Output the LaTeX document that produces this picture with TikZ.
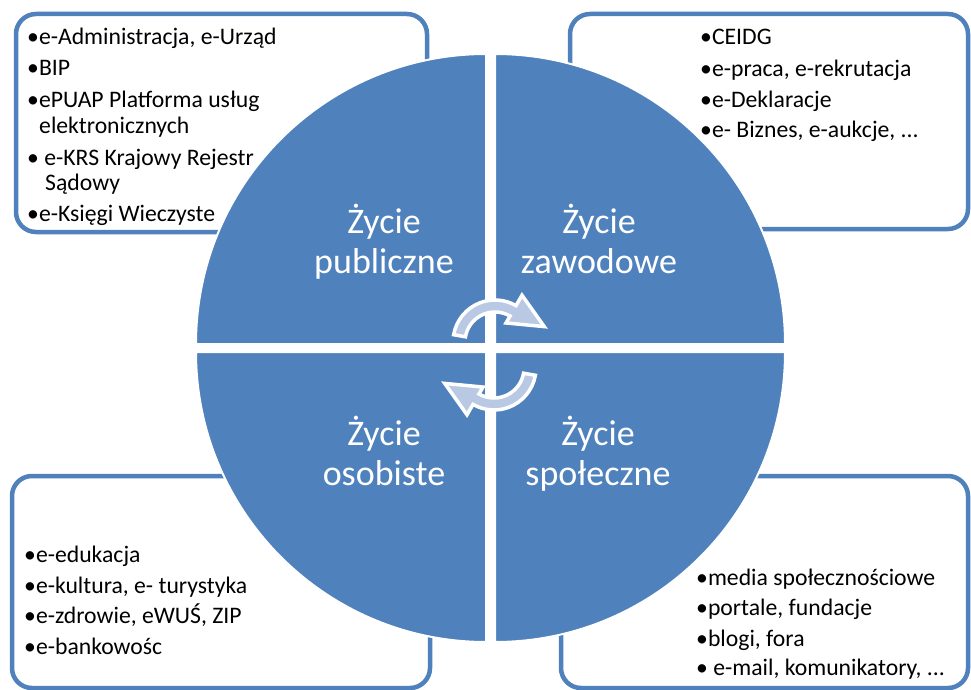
\documentclass[tikz,border=0pt]{standalone}
\usepackage{fontspec}
\setmainfont{Carlito}
\definecolor{blu}{RGB}{79,129,189}
\definecolor{arrlight}{RGB}{185,201,228}
\begin{document}
\begin{tikzpicture}[x=1pt,y=-1pt,
  box/.style={draw=blu, line width=4.5pt, rounded corners=20pt, fill=white},
  item/.style={anchor=base west, inner sep=0pt, font=\fontsize{23.7}{26}\selectfont},
  lab/.style={anchor=base, inner sep=0pt, text=white, font=\fontsize{36}{40}\selectfont},
  sect/.style={fill=blu, draw=white, line width=2pt},
  cyc/.style={fill=arrlight, draw=white, line width=3.5pt, line join=miter}]
\useasboundingbox (0,0) rectangle (971,690);
\fill[white] (0,0) rectangle (971,690);
% boxes
\draw[box] (16,14) rectangle (427,232);
\draw[box] (570,14) rectangle (968,229);
\draw[box] (12,476) rectangle (430,688);
\draw[box] (561,476) rectangle (968,688);
% list texts
\node[item] (tl1) at (27,45) {•e-Administracja, e-Urząd};
\node[item] (tl2) at (27,76) {•BIP};
\node[item] (tl3) at (27,107) {•ePUAP Platforma usług};
\node[item] (tl4) at (39,133) {elektronicznych};
\node[item] (tl5) at (27,165) {• e-KRS Krajowy Rejestr};
\node[item] (tl6) at (45,190) {Sądowy};
\node[item] (tl7) at (27,221) {•e-Księgi Wieczyste};
\node[item] (tr1) at (700,45) {•CEIDG};
\node[item] (tr2) at (700,77) {•e-praca, e-rekrutacja};
\node[item] (tr3) at (700,107) {•e-Deklaracje};
\node[item] (tr4) at (700,137) {•e- Biznes, e-aukcje, ...};
\node[item] (bl1) at (24,562) {•e-edukacja};
\node[item] (bl2) at (24,593) {•e-kultura, e- turystyka};
\node[item] (bl3) at (24,623) {•e-zdrowie, eWUŚ, ZIP};
\node[item] (bl4) at (24,654) {•e-bankowośc};
\node[item] (br1) at (696,585) {•media społecznościowe};
\node[item] (br2) at (696,615) {•portale, fundacje};
\node[item] (br3) at (696,646) {•blogi, fora};
\node[item] (br4) at (696,675) {• e-mail, komunikatory, ...};
% circle quadrants
\filldraw[sect] (486,344) -- ++(-290,0) arc[start angle=180,end angle=270,radius=290] -- cycle;
\filldraw[sect] (495,344) -- ++(0,-290) arc[start angle=270,end angle=360,radius=290] -- cycle;
\filldraw[sect] (495,352) -- ++(290,0) arc[start angle=0,end angle=90,radius=290] -- cycle;
\filldraw[sect] (486,352) -- ++(0,290) arc[start angle=90,end angle=180,radius=290] -- cycle;
% labels
\node[lab] (pub1) at (384,233) {Życie};
\node[lab] (pub2) at (384,273) {publiczne};
\node[lab] (zaw1) at (599,233) {Życie};
\node[lab] (zaw2) at (599,273) {zawodowe};
\node[lab] (oso1) at (384,445) {Życie};
\node[lab] (oso2) at (384,485) {osobiste};
\node[lab] (spo1) at (598,445) {Życie};
\node[lab] (spo2) at (598,485) {społeczne};
% cycle arrows
\begin{scope}[shift={(495,342)}]
\draw[cyc] (190:42) arc[start angle=190,end angle=300,radius=42] -- (300:54) -- (49.3,-15.4) -- (300:22) -- (300:30) arc[start angle=300,end angle=190,radius=30] -- cycle;
\end{scope}
\begin{scope}[shift={(494,368)}]
\draw[cyc] (10:42) arc[start angle=10,end angle=120,radius=42] -- (120:54) -- (-49.3,15.4) -- (120:22) -- (120:30) arc[start angle=120,end angle=10,radius=30] -- cycle;
\end{scope}
\end{tikzpicture}
\end{document}
